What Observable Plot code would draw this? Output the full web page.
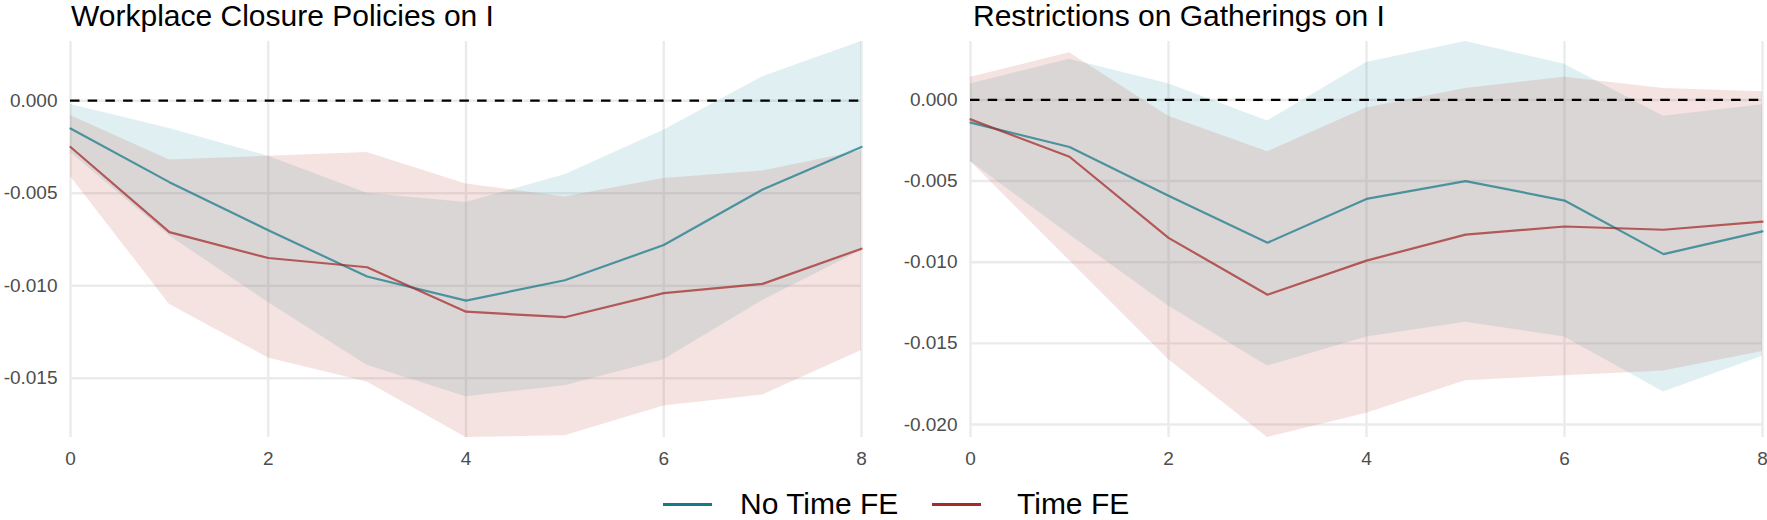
<!DOCTYPE html>
<html>
<head>
<meta charset="utf-8">
<script src="https://cdn.jsdelivr.net/npm/d3@7"></script>
<script src="https://cdn.jsdelivr.net/npm/@observablehq/plot@0.6"></script>
<style>
  html, body { margin: 0; padding: 0; background: #fff; }
  #wrap { position: relative; width: 1767px; height: 520px; overflow: hidden; font-family: "Liberation Sans", Arial, sans-serif; }
  .title { position: absolute; top: 1px; font-size: 30px; line-height: 30px; color: #000; white-space: nowrap; }
  .panel { position: absolute; top: 0; }
  .panel svg { overflow: visible; }
  #legend { position: absolute; top: 486px; left: 0; width: 1767px; height: 40px; }
  .lg { position: absolute; font-size: 30px; color: #000; white-space: nowrap; line-height: 36px; top: 0; }
  .key { position: absolute; height: 3.4px; top: 17px; }
</style>
</head>
<body>
<div id="wrap">
  <div class="title" style="left:71px">Workplace Closure Policies on I</div>
  <div class="title" style="left:973px">Restrictions on Gatherings on I</div>
  <div class="panel" id="p1" style="left:0px"></div>
  <div class="panel" id="p2" style="left:880px"></div>
  <div id="legend"></div>
</div>
<script>
// ---- data ----
const horizons = [0, 1, 2, 3, 4, 5, 6, 7, 8];
const seriesNames = ["No Time FE", "Time FE"];
const seriesColors = ["#18798B", "#A52A2A"];
const ribbonColors = ["#55AAB9", "#C8695F"];

// Workplace Closure Policies on I
const workNoFE   = [-0.0015, -0.0044, -0.0070, -0.0095, -0.0108, -0.0097, -0.0078, -0.0048, -0.0025];
const workNoFELo = [-0.0028, -0.0073, -0.0109, -0.0143, -0.0160, -0.0154, -0.0140, -0.0108, -0.0081];
const workNoFEHi = [-0.0002, -0.0015, -0.0030, -0.0050, -0.0055, -0.0040, -0.0016,  0.0013,  0.0032];
const workFE     = [-0.0025, -0.0071, -0.0085, -0.0090, -0.0114, -0.0117, -0.0104, -0.0099, -0.0080];
const workFELo   = [-0.0041, -0.0110, -0.0139, -0.0152, -0.0182, -0.0181, -0.0165, -0.0159, -0.0135];
const workFEHi   = [-0.0008, -0.0032, -0.0030, -0.0028, -0.0045, -0.0052, -0.0042, -0.0038, -0.0027];

// Restrictions on Gatherings on I
const gathNoFE   = [-0.0014, -0.0029, -0.0059, -0.0088, -0.0061, -0.0050, -0.0062, -0.0095, -0.0081];
const gathNoFELo = [-0.0038, -0.0083, -0.0127, -0.0164, -0.0146, -0.0137, -0.0146, -0.0180, -0.0158];
const gathNoFEHi = [ 0.0010,  0.0025,  0.0010, -0.0013,  0.0023,  0.0036,  0.0022, -0.0010, -0.0003];
const gathFE     = [-0.0012, -0.0035, -0.0085, -0.0120, -0.0099, -0.0083, -0.0078, -0.0080, -0.0075];
const gathFELo   = [-0.0038, -0.0099, -0.0160, -0.0208, -0.0193, -0.0173, -0.0170, -0.0167, -0.0155];
const gathFEHi   = [ 0.0014,  0.0029, -0.0010, -0.0032, -0.0005,  0.0007,  0.0014,  0.0007,  0.0005];

const xTicks = [0, 2, 4, 6, 8];
const yTicksWork = [0, -0.005, -0.010, -0.015];
const yTicksGath = [0, -0.005, -0.010, -0.015, -0.020];
const yTickLabelsWork = ["0.000", "-0.005", "-0.010", "-0.015"];
const yTickLabelsGath = ["0.000", "-0.005", "-0.010", "-0.015", "-0.020"];

function rowsFor(est, lo, hi, s) {
  return horizons.map((h, i) => ({h, est: est[i], lo: lo[i], hi: hi[i], series: seriesNames[s]}));
}

function panel({width, marginLeft, marginRight, sets, yTicks, yLabels}) {
  const all = sets.flatMap(d => d);
  const yDomain = [d3.min(all, d => d.lo), d3.max(all, d => d.hi)];
  const marks = [
    Plot.gridX(xTicks, {stroke: "#EBEBEB", strokeOpacity: 1, strokeWidth: 2.4}),
    Plot.gridY(yTicks, {stroke: "#EBEBEB", strokeOpacity: 1, strokeWidth: 2.4})
  ];
  sets.forEach((rows, s) => {
    marks.push(Plot.areaY(rows, {x: "h", y1: "lo", y2: "hi", fill: ribbonColors[s], fillOpacity: 0.19}));
  });
  marks.push(Plot.ruleY([0], {stroke: "#000", strokeWidth: 2.3, strokeDasharray: "9.5,8.2"}));
  sets.forEach((rows, s) => {
    marks.push(Plot.line(rows, {x: "h", y: "est", stroke: seriesColors[s], strokeOpacity: 0.74, strokeWidth: 2.2}));
  });
  marks.push(Plot.axisX(xTicks, {tickSize: 0, tickPadding: 14, fontSize: 19, fill: "#4D4D4D", label: null}));
  marks.push(Plot.axisY(yTicks, {tickSize: 0, tickPadding: 13, fontSize: 19, fill: "#4D4D4D", label: null,
    tickFormat: (d) => yLabels[yTicks.indexOf(d)]}));
  return Plot.plot({
    width, height: 475,
    marginLeft, marginRight, marginTop: 41, marginBottom: 38,
    x: {domain: [0, 8]},
    y: {domain: yDomain},
    style: {fontFamily: "Liberation Sans, Arial, sans-serif", background: "transparent", overflow: "visible"},
    marks
  });
}

document.getElementById("p1").appendChild(panel({
  width: 880, marginLeft: 70, marginRight: 19,
  sets: [rowsFor(workNoFE, workNoFELo, workNoFEHi, 0), rowsFor(workFE, workFELo, workFEHi, 1)],
  yTicks: yTicksWork, yLabels: yTickLabelsWork
}));
document.getElementById("p2").appendChild(panel({
  width: 887, marginLeft: 90, marginRight: 5,
  sets: [rowsFor(gathNoFE, gathNoFELo, gathNoFEHi, 0), rowsFor(gathFE, gathFELo, gathFEHi, 1)],
  yTicks: yTicksGath, yLabels: yTickLabelsGath
}));

// legend
const legend = document.getElementById("legend");
const legendPos = [{key: 663, text: 740}, {key: 932, text: 1017}];
seriesNames.forEach((name, i) => {
  const k = document.createElement("div");
  k.className = "key";
  k.style.left = legendPos[i].key + "px";
  k.style.width = "49px";
  k.style.background = seriesColors[i];
  legend.appendChild(k);
  const t = document.createElement("div");
  t.className = "lg";
  t.style.left = legendPos[i].text + "px";
  t.textContent = name;
  legend.appendChild(t);
});
</script>
</body>
</html>
